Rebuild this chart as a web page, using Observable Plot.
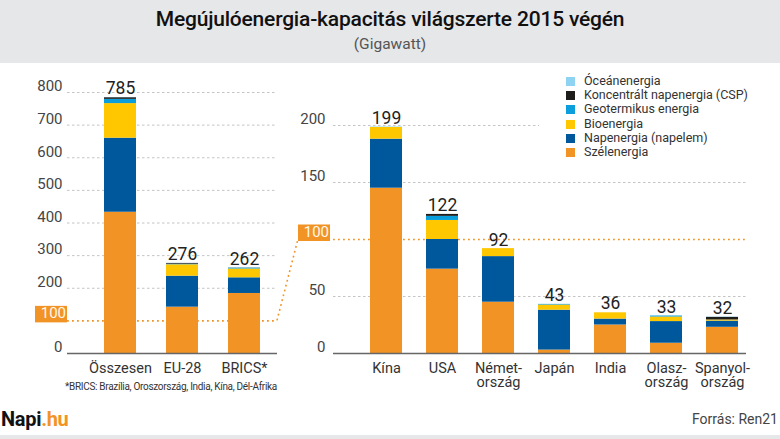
<!DOCTYPE html>
<html><head><meta charset="utf-8">
<script src="https://cdn.jsdelivr.net/npm/d3@7"></script>
<script src="https://cdn.jsdelivr.net/npm/@observablehq/plot@0.6"></script>
<style>
body{margin:0;background:#fff;font-family:Roboto,"Open Sans",sans-serif;}
#wrap{position:relative;width:780px;height:439px;overflow:hidden;background:#fff}
#head{position:absolute;left:0;top:0;width:780px;height:63px;background:#e6e7e9;text-align:center}
#title{position:absolute;left:0;top:7px;width:100%;font-size:21px;font-weight:500;color:#111;letter-spacing:-0.2px}
#sub{position:absolute;left:0;top:35px;width:100%;font-size:15.5px;color:#555}
#left{position:absolute;left:0;top:63px}
#right{position:absolute;left:290px;top:63px}
#note{position:absolute;right:503px;top:381px;font-size:10px;color:#333;letter-spacing:-0.3px;white-space:nowrap}
#legend{position:absolute;left:566px;top:74px;font-size:12.5px;color:#333}
#legend .row{height:14.2px;line-height:14.2px;white-space:nowrap;position:relative;padding-left:18px}
#legend .sw{position:absolute;left:0;top:3px;width:9px;height:9px}
#logo{position:absolute;left:1px;top:407px;font-size:20px;font-weight:700;color:#111;letter-spacing:-0.3px}
#logo span{color:#f29325}
#src{position:absolute;right:2px;top:411px;font-size:14px;color:#444}
#foot{position:absolute;left:0;top:435px;width:780px;height:4px;background:#e6e7e9}
#conn{position:absolute;left:0;top:0;pointer-events:none}
</style></head><body>
<div id="wrap">
  <div id="head"><div id="title">Megújulóenergia-kapacitás világszerte 2015 végén</div><div id="sub">(Gigawatt)</div></div>
  <div id="left"></div>
  <div id="right"></div>
  <div id="note">*BRICS: Brazília, Oroszország, India, Kína, Dél-Afrika</div>
  <div id="legend"></div>
  <div id="logo">Napi<span>.hu</span></div>
  <div id="src">Forrás: Ren21</div>
  <div id="foot"></div>
</div>
<script>
// ---- data ----
const sources = ["Szélenergia","Napenergia (napelem)","Bioenergia","Geotermikus energia","Koncentrált napenergia (CSP)","Óceánenergia"];
const colors = ["#f29325","#00589c","#ffc700","#0a9fdc","#1d1d1b","#8fd3f2"];

const groupCats = ["Összesen","EU-28","BRICS*"];
const groupWind = [433,142,184];
const groupSolar = [227,95,48];
const groupBio = [106,35,27];
const groupGeo = [13,1.8,2.7];
const groupCsp = [5,2.3,0.4];
const groupOcean = [0.5,0.2,0.3];
const groupTotals = [785,276,262];

const countryCats = ["Kína","USA","Német-\nország","Japán","India","Olasz-\nország","Spanyol-\nország"];
const countryWind = [145,74,45,3,25,9,23];
const countrySolar = [43,26,40,35,5.2,19,5.4];
const countryBio = [10.3,16.7,7,4.5,5.5,4,1];
const countryGeo = [0,3.6,0,0.5,0,0.9,0];
const countryCsp = [0,1.7,0,0,0,0,2.3];
const countryOcean = [0.4,0,0,0.2,0,0,0.3];
const countryTotals = [199,122,92,43,36,33,32];

const leftTicks = [0,100,200,300,400,500,600,700,800];
const rightTicks = [0,50,100,150,200];
const markerValue = 100;

// ---- helpers ----
function toLong(cats, series){
  const out = [];
  cats.forEach((c,i)=> series.forEach((s,j)=> out.push({cat:c, source:sources[j], value:s[i]})));
  return out;
}
const orange = colors[0];
const font = "Roboto, 'Open Sans', sans-serif";

function hundredBox(gap){
  return (index, scales, values, dims) => {
    const y = scales.y(markerValue);
    const x2 = dims.marginLeft - gap;
    const g = d3.create("svg:g");
    g.append("rect").attr("x", x2-32).attr("y", y-14.5).attr("width",32).attr("height",16.5).attr("fill",orange);
    g.append("text").attr("x", x2-1).attr("y", y-6).attr("text-anchor","end").attr("dominant-baseline","middle")
      .attr("font-size",15).attr("fill","#fff8ea").attr("font-family",font).text(String(markerValue));
    return g.node();
  };
}

function panel({cats, series, totals, ticks, width, ml, mr, mt, xr, padIn, padOut, yMax, boxGap, tickPad, gridOpts}){
  const long = toLong(cats, series);
  const labels = cats.map((c,i)=>({cat:c, total:totals[i]}));
  return Plot.plot({
    width, height:330, marginLeft:ml, marginRight:mr, marginTop:mt, marginBottom:40,
    style:{fontFamily:font, background:"transparent", overflow:"visible"},
    x:{domain:cats, range:xr, paddingInner:padIn, paddingOuter:padOut, axis:null, label:null},
    y:{domain:[0,yMax], axis:null, label:null},
    color:{domain:sources, range:colors},
    marks:[
      ...gridOpts.map(([v,ir]) => Plot.ruleY([v], {stroke:"#c4c4c4", strokeDasharray:"2.5,2.5", insetRight:ir})),
      Plot.ruleY([markerValue], {stroke:orange, strokeWidth:1.6, strokeDasharray:"1.8,3.2"}),
      Plot.barY(long, {x:"cat", y:"value", fill:"source"}),
      Plot.ruleY([0], {stroke:"#666", strokeWidth:1.5}),
      Plot.text(labels, {x:"cat", y:"total", text:"total", dy:-3, lineAnchor:"bottom", fontSize:17.5, fill:"#222"}),
      Plot.axisY(ticks.filter(t=>t!==markerValue), {tickSize:0, tickPadding:tickPad, dy:-6, fontSize:15, fill:"#444", label:null}),
      Plot.axisX({tickSize:0, tickPadding:9, fontSize:14.5, fill:"#333", lineAnchor:"top", lineHeight:1, label:null}),
      hundredBox(boxGap)
    ]
  });
}

const leftPlot = panel({
  cats:groupCats, series:[groupWind,groupSolar,groupBio,groupGeo,groupCsp,groupOcean], totals:groupTotals,
  ticks:leftTicks, width:290, ml:67, mr:13, mt:29, xr:[89,275], padIn:0.484, padOut:0.242, yMax:800,
  boxGap:0, tickPad:5, gridOpts:leftTicks.filter(t=>t!==0&&t!==markerValue).map(t=>[t,0])
});
const rightPlot = panel({
  cats:countryCats, series:[countryWind,countrySolar,countryBio,countryGeo,countryCsp,countryOcean], totals:countryTotals,
  ticks:rightTicks, width:490, ml:43, mr:34, mt:62, xr:[68,460], padIn:0.42, padOut:0.21, yMax:200,
  boxGap:3, tickPad:8, gridOpts:[[50,0],[150,0],[200,207]]
});
document.getElementById("left").appendChild(leftPlot);
document.getElementById("right").appendChild(rightPlot);

// legend (top to bottom is reverse of stack order)
const leg = d3.select("#legend");
sources.slice().reverse().forEach(s=>{
  const r = leg.append("div").attr("class","row");
  r.append("div").attr("class","sw").style("background", colors[sources.indexOf(s)]);
  r.append("span").text(s);
});

// connector between the two 100 lines, from the plots' own scales
const yL = 63 + leftPlot.scale("y").apply(markerValue);
const yR = 63 + rightPlot.scale("y").apply(markerValue);
const xL = 290 - 13;
const xR = 290 + 43 - 35;
const svg = d3.select("#wrap").append("svg").attr("id","conn").attr("width",780).attr("height",439);
svg.append("line").attr("x1",xL).attr("y1",yL).attr("x2",xR).attr("y2",yR)
  .attr("stroke",orange).attr("stroke-width",1.6).attr("stroke-dasharray","1.8,3.2");
</script>
</body></html>
